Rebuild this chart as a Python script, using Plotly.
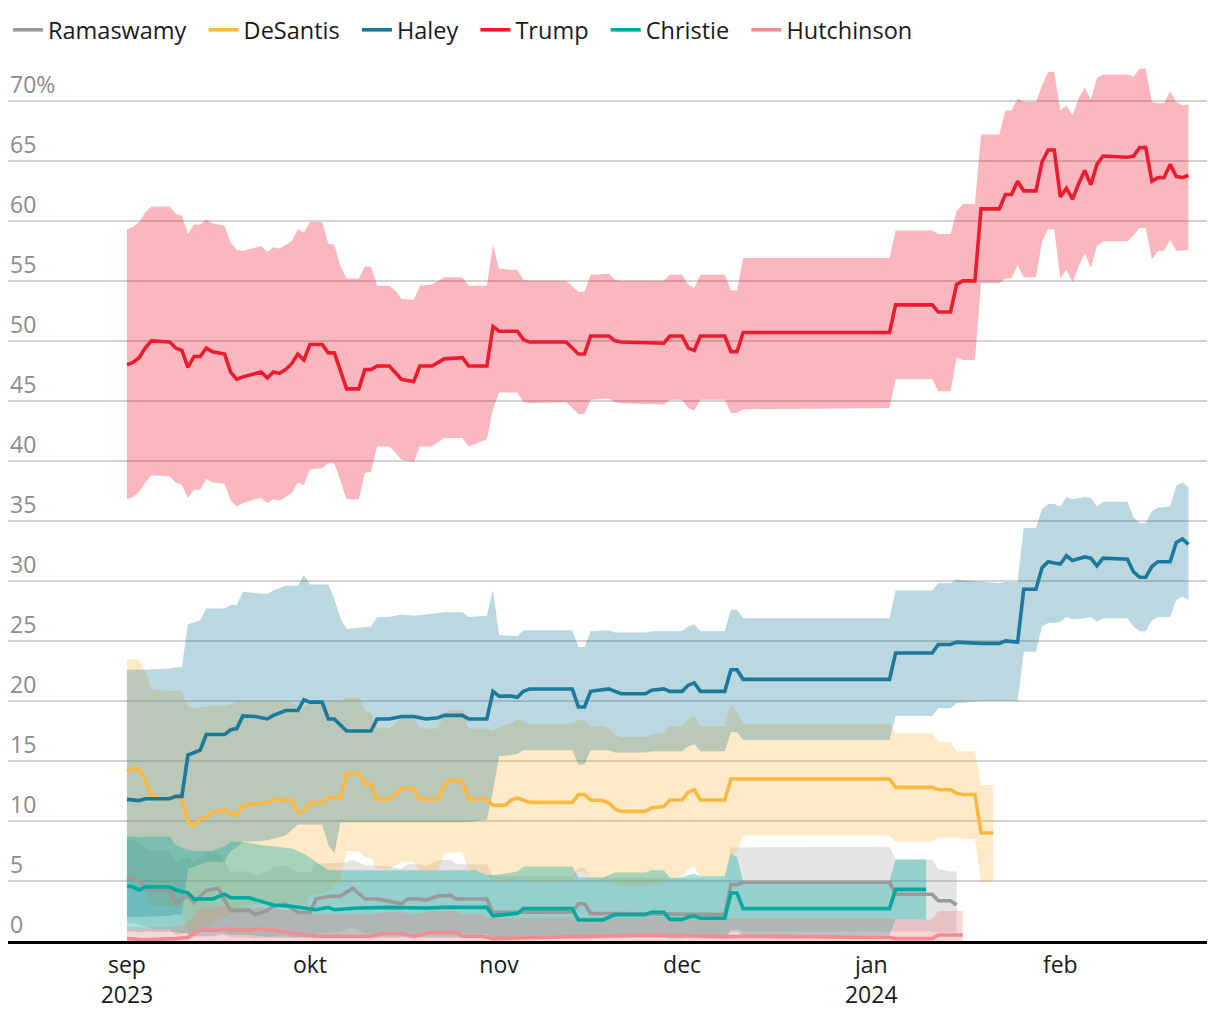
import plotly.graph_objects as go

# ---------------- data ----------------
trump_dates = ["2023-09-01","2023-09-02","2023-09-03","2023-09-04","2023-09-05","2023-09-08","2023-09-09","2023-09-10","2023-09-11","2023-09-12","2023-09-13","2023-09-14","2023-09-15","2023-09-17","2023-09-18","2023-09-19","2023-09-20","2023-09-22","2023-09-23","2023-09-24","2023-09-25","2023-09-26","2023-09-27","2023-09-28","2023-09-29","2023-09-30","2023-10-01","2023-10-03","2023-10-04","2023-10-05","2023-10-06","2023-10-07","2023-10-09","2023-10-10","2023-10-11","2023-10-12","2023-10-14","2023-10-15","2023-10-16","2023-10-18","2023-10-19","2023-10-21","2023-10-23","2023-10-26","2023-10-27","2023-10-30","2023-10-31","2023-11-01","2023-11-04","2023-11-05","2023-11-06","2023-11-12","2023-11-14","2023-11-15","2023-11-16","2023-11-19","2023-11-20","2023-11-21","2023-11-28","2023-11-29","2023-12-01","2023-12-02","2023-12-03","2023-12-04","2023-12-08","2023-12-09","2023-12-10","2023-12-11","2024-01-04","2024-01-05","2024-01-11","2024-01-12","2024-01-14","2024-01-15","2024-01-16","2024-01-18","2024-01-19","2024-01-22","2024-01-23","2024-01-24","2024-01-25","2024-01-26","2024-01-28","2024-01-29","2024-01-30","2024-01-31","2024-02-01","2024-02-02","2024-02-03","2024-02-04","2024-02-05","2024-02-06","2024-02-07","2024-02-08","2024-02-12","2024-02-13","2024-02-14","2024-02-15","2024-02-16","2024-02-17","2024-02-18","2024-02-19","2024-02-20","2024-02-21","2024-02-22"]
trump_mid = [48.0,48.2,48.6,49.4,50.0,49.9,49.4,49.2,47.8,48.7,48.7,49.4,49.1,48.9,47.4,46.8,47.0,47.3,47.4,46.9,47.4,47.3,47.6,48.1,48.9,48.4,49.7,49.7,49.0,49.0,47.4,46.0,46.0,47.6,47.6,47.9,47.9,47.4,46.8,46.6,47.9,47.9,48.5,48.6,47.9,47.9,51.2,50.8,50.8,50.1,49.9,49.9,48.9,48.9,50.4,50.4,50.0,49.9,49.8,50.4,50.4,49.4,49.2,50.4,50.4,49.1,49.1,50.7,50.7,53.0,53.0,52.4,52.4,54.7,55.0,55.0,61.0,61.0,62.2,62.2,63.3,62.5,62.5,64.9,65.9,65.9,62.0,62.7,61.8,63.1,64.2,63.0,64.7,65.4,65.3,65.4,66.1,66.1,63.3,63.6,63.6,64.7,63.7,63.6,63.8]
trump_lo = [36.8,37.0,37.4,38.2,38.8,38.7,38.2,38.0,36.9,37.6,37.6,38.5,38.2,38.1,36.7,36.2,36.5,36.8,36.9,36.5,36.8,36.7,37.0,37.3,38.2,38.0,39.3,39.4,39.8,39.8,38.3,36.8,36.8,39.0,39.1,41.2,41.2,40.7,40.1,39.9,41.2,41.2,41.9,41.9,41.2,41.8,44.3,45.7,45.7,44.9,44.8,44.9,43.9,43.9,45.1,45.2,44.9,44.8,44.7,45.1,45.1,44.4,44.2,45.1,45.1,44.0,44.0,44.3,44.4,46.8,46.8,45.8,45.8,48.6,48.4,48.4,54.8,54.8,55.2,55.2,56.3,55.3,55.3,58.3,59.3,59.3,55.2,55.9,54.9,56.2,57.3,56.1,57.9,58.3,58.3,58.8,59.4,59.4,56.8,57.5,57.5,58.4,57.5,57.5,57.6]
trump_hi = [59.3,59.5,59.9,60.7,61.2,61.2,60.6,60.4,58.9,59.7,59.7,60.1,59.8,59.6,58.2,57.6,57.5,57.8,57.9,57.4,57.8,57.7,58.0,58.3,59.3,59.0,59.9,59.9,58.1,58.0,56.2,55.2,55.2,56.2,56.2,54.6,54.6,54.2,53.5,53.4,54.6,54.7,55.3,55.3,54.6,54.6,58.0,56.0,55.9,55.1,55.0,55.0,54.1,54.1,55.5,55.6,55.1,55.0,55.0,55.5,55.5,54.7,54.4,55.5,55.5,54.2,54.2,56.9,56.9,59.2,59.2,58.9,58.9,60.8,61.4,61.4,67.2,67.2,69.2,69.2,70.2,69.9,69.9,71.3,72.4,72.4,69.2,69.6,68.8,70.2,71.1,70.1,71.9,72.2,72.2,72.0,72.7,72.7,69.9,69.8,69.8,70.8,69.9,69.6,69.7]

haley_dates = ["2023-09-01","2023-09-03","2023-09-04","2023-09-08","2023-09-09","2023-09-10","2023-09-11","2023-09-13","2023-09-14","2023-09-17","2023-09-18","2023-09-19","2023-09-20","2023-09-22","2023-09-24","2023-09-25","2023-09-27","2023-09-29","2023-09-30","2023-10-01","2023-10-03","2023-10-04","2023-10-05","2023-10-06","2023-10-07","2023-10-11","2023-10-12","2023-10-14","2023-10-16","2023-10-18","2023-10-20","2023-10-22","2023-10-23","2023-10-26","2023-10-27","2023-10-30","2023-10-31","2023-11-01","2023-11-03","2023-11-04","2023-11-05","2023-11-06","2023-11-13","2023-11-14","2023-11-15","2023-11-16","2023-11-19","2023-11-20","2023-11-21","2023-11-25","2023-11-26","2023-11-28","2023-11-29","2023-12-01","2023-12-02","2023-12-03","2023-12-04","2023-12-08","2023-12-09","2023-12-10","2023-12-11","2024-01-04","2024-01-05","2024-01-11","2024-01-12","2024-01-14","2024-01-15","2024-01-19","2024-01-22","2024-01-23","2024-01-25","2024-01-26","2024-01-28","2024-01-29","2024-01-30","2024-01-31","2024-02-01","2024-02-02","2024-02-03","2024-02-05","2024-02-06","2024-02-07","2024-02-08","2024-02-12","2024-02-13","2024-02-14","2024-02-15","2024-02-16","2024-02-17","2024-02-19","2024-02-20","2024-02-21","2024-02-22"]
haley_mid = [11.8,11.7,11.85,11.85,12.05,12.05,15.5,15.9,17.2,17.2,17.6,17.7,18.75,18.7,18.5,18.8,19.2,19.2,20.1,19.9,19.9,18.5,18.5,18.0,17.5,17.5,18.5,18.5,18.7,18.7,18.5,18.6,18.8,18.8,18.5,18.5,20.8,20.4,20.4,20.3,20.8,21.0,21.0,19.5,19.5,20.8,21.0,20.8,20.6,20.6,20.9,21.0,20.8,20.8,21.3,21.5,20.8,20.8,22.6,22.6,21.8,21.8,24.0,24.0,24.7,24.7,24.9,24.8,24.8,25.0,24.9,29.3,29.3,31.1,31.6,31.5,31.4,32.1,31.7,32.0,31.9,31.25,31.9,31.8,30.75,30.3,30.3,31.2,31.6,31.6,33.2,33.5,33.05]
haley_lo = [2.0,2.0,2.0,2.1,2.2,2.2,6.0,6.4,6.6,6.6,7.5,7.8,8.3,8.3,8.4,8.5,8.8,9.7,9.7,9.7,9.7,8.0,7.3,9.9,9.9,9.9,9.9,9.9,9.9,9.9,9.9,9.9,9.9,9.9,9.9,10.1,12.5,15.4,15.5,15.6,15.9,15.9,15.9,14.7,14.7,15.9,15.9,15.7,15.7,15.7,15.8,15.8,15.8,15.8,16.2,16.4,15.8,15.8,17.4,17.4,16.75,16.75,18.75,18.75,19.4,19.4,19.8,20.0,20.0,20.0,20.0,24.1,24.1,26.2,26.5,26.5,26.6,27.0,26.8,26.9,27.0,26.6,26.9,26.9,26.2,25.8,25.8,26.7,27.0,27.0,28.4,28.7,28.4]
haley_hi = [22.6,22.6,22.6,22.7,22.8,22.8,26.4,26.7,27.7,27.7,28.0,28.0,29.1,29.0,28.9,29.2,29.6,29.6,30.5,29.7,29.7,29.7,28.5,26.9,26.0,26.2,27.0,27.0,27.2,27.1,27.2,27.3,27.4,27.4,27.0,27.1,29.25,25.5,25.4,25.4,25.9,25.9,25.9,24.5,24.5,25.8,25.9,25.7,25.7,25.7,25.8,25.8,25.8,25.8,26.2,26.4,25.8,25.8,27.6,27.6,26.9,26.9,29.2,29.2,29.8,29.8,30.1,29.9,29.8,29.9,29.9,34.4,34.4,36.0,36.4,36.4,36.2,37.0,36.8,37.0,36.9,36.2,36.6,36.6,35.3,34.8,34.8,35.8,36.1,36.2,37.9,38.2,37.8]

desantis_dates = ["2023-09-01","2023-09-02","2023-09-03","2023-09-04","2023-09-05","2023-09-06","2023-09-10","2023-09-11","2023-09-12","2023-09-13","2023-09-14","2023-09-15","2023-09-17","2023-09-18","2023-09-19","2023-09-20","2023-09-22","2023-09-24","2023-09-25","2023-09-28","2023-09-29","2023-09-30","2023-10-01","2023-10-03","2023-10-04","2023-10-06","2023-10-07","2023-10-09","2023-10-10","2023-10-11","2023-10-12","2023-10-14","2023-10-16","2023-10-18","2023-10-19","2023-10-22","2023-10-23","2023-10-24","2023-10-26","2023-10-27","2023-10-30","2023-10-31","2023-11-02","2023-11-03","2023-11-04","2023-11-06","2023-11-13","2023-11-14","2023-11-15","2023-11-16","2023-11-18","2023-11-19","2023-11-20","2023-11-21","2023-11-25","2023-11-26","2023-11-28","2023-11-29","2023-12-01","2023-12-02","2023-12-03","2023-12-04","2023-12-08","2023-12-09","2023-12-10","2023-12-11","2024-01-04","2024-01-05","2024-01-11","2024-01-12","2024-01-14","2024-01-15","2024-01-16","2024-01-18","2024-01-19","2024-01-21"]
desantis_mid = [14.1,14.4,14.3,13.4,12.0,11.85,11.9,9.9,9.6,10.2,10.3,10.75,10.9,10.6,10.5,11.3,11.45,11.5,11.8,11.7,10.75,10.8,11.5,11.5,12.0,11.9,14.0,14.0,13.1,13.05,11.8,11.8,12.7,12.7,11.8,11.8,13.0,13.4,13.3,11.8,11.8,11.3,11.3,11.75,11.9,11.55,11.55,12.2,12.2,11.75,11.7,11.5,11.0,10.8,10.8,11.1,11.2,11.75,11.75,12.4,12.6,11.75,11.75,13.5,13.5,13.5,13.5,12.8,12.8,12.6,12.6,12.3,12.2,12.2,9.0,9.0]
desantis_lo = [4.8,5.0,5.2,4.2,3.0,2.9,2.9,0.5,0.5,1.0,1.2,1.6,2.0,2.2,2.5,3.0,3.0,3.1,3.2,3.4,3.0,3.0,3.8,4.0,4.2,5.0,7.5,7.5,7.0,6.9,6.0,6.0,6.6,6.6,5.9,5.9,7.2,7.4,7.4,5.9,5.5,5.0,4.9,4.9,5.2,5.0,5.0,5.8,5.8,5.2,5.2,5.0,4.8,4.6,4.6,4.8,4.9,5.3,5.3,6.0,6.2,5.3,5.3,7.0,7.5,8.8,8.8,8.3,8.3,8.6,8.6,8.6,8.5,8.5,4.9,4.9]
desantis_hi = [23.4,23.5,23.4,22.5,21.0,20.9,20.8,19.5,19.4,19.5,19.5,19.6,19.6,19.7,19.9,19.9,19.9,19.9,19.9,19.9,19.5,19.5,19.9,19.9,19.9,19.9,20.3,20.3,19.2,19.0,17.7,17.7,18.6,18.6,17.7,17.7,19.0,19.2,19.2,17.7,17.7,17.5,18.0,18.1,18.5,18.1,18.1,18.4,18.4,17.9,17.9,17.7,17.2,17.0,17.0,17.2,17.3,17.9,17.9,18.5,18.8,17.9,17.9,19.7,19.0,18.1,18.1,17.3,17.3,16.6,16.6,15.8,15.8,15.8,13.0,13.0]

christie_dates = ["2023-09-01","2023-09-02","2023-09-03","2023-09-04","2023-09-08","2023-09-09","2023-09-11","2023-09-12","2023-09-15","2023-09-17","2023-09-18","2023-09-21","2023-09-23","2023-09-25","2023-09-28","2023-09-30","2023-10-02","2023-10-04","2023-10-05","2023-10-09","2023-10-14","2023-10-20","2023-10-23","2023-10-28","2023-10-30","2023-10-31","2023-11-02","2023-11-04","2023-11-05","2023-11-13","2023-11-14","2023-11-18","2023-11-20","2023-11-25","2023-11-26","2023-11-28","2023-11-29","2023-12-01","2023-12-02","2023-12-03","2023-12-04","2023-12-08","2023-12-09","2023-12-10","2023-12-11","2024-01-04","2024-01-05","2024-01-10"]
christie_mid = [4.6,4.5,4.25,4.5,4.5,4.25,4.0,3.5,3.5,3.9,3.6,3.6,3.3,3.0,2.9,2.75,2.6,2.8,2.6,2.75,2.8,2.75,2.8,2.8,2.8,2.1,2.2,2.3,2.7,2.7,1.75,1.75,2.2,2.2,2.4,2.4,1.8,1.8,2.0,2.1,1.9,1.9,4.0,4.0,2.7,2.7,4.3,4.3]
christie_lo = [0.8,0.8,0.7,0.8,0.8,0.7,0.6,0.4,0.4,0.6,0.5,0.5,0.4,0.3,0.3,0.3,0.3,0.3,0.3,0.3,0.3,0.3,0.3,0.3,0.3,0.3,0.3,0.3,0.3,0.3,0.2,0.2,0.3,0.3,0.3,0.3,0.2,0.2,0.3,0.3,0.2,0.2,0.8,0.8,0.5,0.5,1.8,1.8]
christie_hi = [8.7,8.7,8.6,8.7,8.7,8.0,7.6,7.5,7.5,7.9,8.3,8.2,8.0,7.9,7.7,7.3,6.6,5.9,5.9,5.9,5.9,5.9,5.9,5.9,5.5,5.5,5.6,5.8,6.2,6.2,5.3,5.3,5.7,5.7,5.9,5.9,5.3,5.3,5.5,5.6,5.4,5.4,7.3,7.0,5.0,5.0,6.8,6.8]

ramaswamy_dates = ["2023-09-01","2023-09-02","2023-09-03","2023-09-04","2023-09-05","2023-09-08","2023-09-09","2023-09-10","2023-09-11","2023-09-12","2023-09-14","2023-09-15","2023-09-16","2023-09-17","2023-09-18","2023-09-21","2023-09-22","2023-09-24","2023-09-25","2023-09-27","2023-09-28","2023-09-29","2023-10-01","2023-10-02","2023-10-04","2023-10-06","2023-10-07","2023-10-08","2023-10-10","2023-10-12","2023-10-14","2023-10-16","2023-10-17","2023-10-19","2023-10-20","2023-10-22","2023-10-24","2023-10-25","2023-10-28","2023-10-30","2023-10-31","2023-11-13","2023-11-14","2023-11-15","2023-11-16","2023-12-08","2023-12-09","2023-12-10","2023-12-11","2024-01-04","2024-01-05","2024-01-11","2024-01-12","2024-01-14","2024-01-15"]
ramaswamy_mid = [5.3,5.2,5.0,4.5,4.25,4.25,3.1,3.5,3.8,3.2,4.2,4.3,4.4,3.4,2.55,2.55,2.2,2.55,2.9,3.1,2.7,2.4,2.4,3.5,3.7,3.75,4.1,4.4,3.5,3.5,3.3,3.1,3.5,3.5,3.4,3.75,3.8,3.5,3.5,3.5,2.4,2.4,3.1,3.1,2.3,2.2,4.7,4.7,4.9,4.9,3.9,3.9,3.35,3.35,3.0]
ramaswamy_lo = [1.5,1.5,1.4,1.2,1.0,1.0,0.5,0.6,0.7,0.5,1.0,1.0,1.1,0.5,0.3,0.3,0.2,0.3,0.4,0.5,0.3,0.3,0.3,0.6,0.7,0.8,1.0,1.1,0.6,0.6,0.5,0.5,0.6,0.6,0.6,0.7,0.7,0.6,0.6,0.6,0.3,0.3,0.5,0.5,0.3,0.3,1.0,1.0,0.8,0.8,0.8,0.8,0.7,0.7,0.7]
ramaswamy_hi = [8.5,8.4,8.2,7.8,7.5,7.5,6.5,6.8,7.0,6.5,7.3,7.3,7.4,6.6,5.8,5.8,5.4,5.8,6.1,6.3,6.0,5.7,5.7,6.4,6.5,6.5,6.6,6.8,6.3,6.3,6.2,6.0,6.4,6.4,6.3,6.7,6.8,6.4,6.4,6.4,5.4,5.4,6.1,6.1,5.3,5.2,7.8,7.8,7.85,7.85,6.8,6.8,6.0,5.8,5.8]

hutchinson_dates = ["2023-09-01","2023-09-04","2023-09-09","2023-09-11","2023-09-13","2023-09-16","2023-09-17","2023-09-18","2023-09-21","2023-09-23","2023-09-25","2023-09-28","2023-10-02","2023-10-11","2023-10-13","2023-10-16","2023-10-18","2023-10-21","2023-10-25","2023-10-26","2023-10-29","2023-10-31","2023-11-15","2023-11-26","2023-12-08","2023-12-11","2024-01-04","2024-01-05","2024-01-11","2024-01-12","2024-01-16"]
hutchinson_mid = [0.2,0.1,0.2,0.3,0.9,0.9,1.05,0.9,0.9,1.0,0.9,0.7,0.4,0.4,0.6,0.6,0.4,0.7,0.7,0.4,0.4,0.2,0.4,0.5,0.35,0.4,0.3,0.2,0.2,0.5,0.5]
hutchinson_lo = [0.0,0.0,0.0,0.0,0.0,0.0,0.0,0.0,0.0,0.0,0.0,0.0,0.0,0.0,0.0,0.0,0.0,0.0,0.0,0.0,0.0,0.0,0.0,0.0,0.0,0.0,0.0,0.0,0.0,0.0,0.0]
hutchinson_hi = [1.2,1.1,1.2,1.5,2.8,2.8,2.9,2.8,2.8,2.8,2.7,2.5,2.2,2.2,2.4,2.4,2.2,2.5,2.5,2.2,2.2,1.9,2.0,2.0,1.9,1.9,1.9,1.8,1.8,2.5,2.5]

candidates = ["Ramaswamy", "DeSantis", "Haley", "Trump", "Christie", "Hutchinson"]
line_colors = ["#9a9a9a", "#fcb843", "#1b7a9b", "#ed1b2f", "#00a99d", "#f38b91"]
band_colors = ["rgba(150,150,150,0.26)", "rgba(251,184,67,0.30)", "rgba(29,122,153,0.30)",
               "rgba(238,27,46,0.31)", "rgba(0,169,157,0.34)", "rgba(238,120,130,0.30)"]

tick_dates = ["2023-09-01", "2023-10-01", "2023-11-01", "2023-12-01", "2024-01-01", "2024-02-01"]
tick_text = ["sep<br>2023", "okt", "nov", "dec", "jan<br>2024", "feb"]
y_ticks = [0, 5, 10, 15, 20, 25, 30, 35, 40, 45, 50, 55, 60, 65, 70]

series = {
    "Ramaswamy": (ramaswamy_dates, ramaswamy_mid, ramaswamy_lo, ramaswamy_hi),
    "DeSantis": (desantis_dates, desantis_mid, desantis_lo, desantis_hi),
    "Haley": (haley_dates, haley_mid, haley_lo, haley_hi),
    "Trump": (trump_dates, trump_mid, trump_lo, trump_hi),
    "Christie": (christie_dates, christie_mid, christie_lo, christie_hi),
    "Hutchinson": (hutchinson_dates, hutchinson_mid, hutchinson_lo, hutchinson_hi),
}

FONT = "Open Sans"
fig = go.Figure()

# uncertainty bands
for name, bc in zip(candidates, band_colors):
    d, m, lo, hi = series[name]
    fig.add_trace(go.Scatter(
        x=list(d) + list(d)[::-1], y=list(hi) + list(lo)[::-1],
        fill="toself", fillcolor=bc, line=dict(width=0), mode="lines",
        showlegend=False, hoverinfo="skip"))

# average lines
for name, lc in zip(candidates, line_colors):
    d, m, lo, hi = series[name]
    fig.add_trace(go.Scatter(
        x=d, y=m, mode="lines", name=name + "\u00a0\u00a0",
        line=dict(color=lc, width=3.6)))

# y labels above gridlines
for v in y_ticks:
    fig.add_annotation(
        x=0, xref="paper", y=v, yref="y", text=("70%" if v == 70 else str(v)),
        showarrow=False, xanchor="left", yanchor="bottom", xshift=0, yshift=-1,
        font=dict(family=FONT, size=23, color="#8c8c8c", weight=400))

fig.update_layout(
    width=1204, height=1004,
    margin=dict(l=0, r=5, t=52, b=71),
    paper_bgcolor="white", plot_bgcolor="white",
    font=dict(family=FONT, size=24, color="#1a1a1a", weight=400),
    showlegend=True,
    legend=dict(orientation="h", x=0, y=1.034, xanchor="left", yanchor="middle",
                font=dict(family=FONT, size=23.5, color="#1a1a1a", weight=400)),
    xaxis=dict(type="date", range=["2023-08-12 12:00", "2024-02-25 01:00"],
               tickvals=tick_dates, ticktext=tick_text, showgrid=False,
               showline=True, linecolor="#000000", linewidth=2.5, ticks="",
               ticklabelstandoff=2,
               tickfont=dict(family=FONT, size=23, color="#1a1a1a", weight=400), zeroline=False),
    yaxis=dict(range=[0, 73.4], tickvals=y_ticks, showticklabels=False,
               showgrid=True, gridcolor="#d2d2d2", gridwidth=1.5, zeroline=False,
               showline=False),
)

fig.write_html("out.html")
